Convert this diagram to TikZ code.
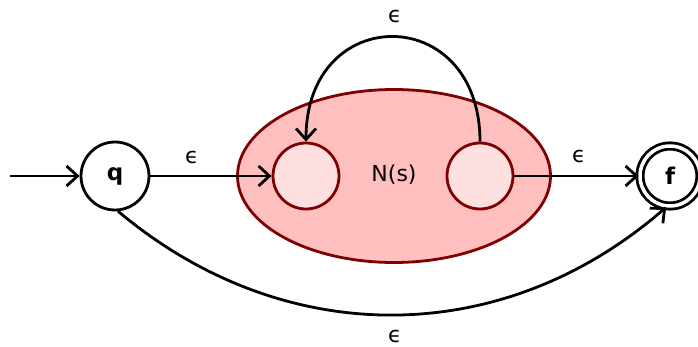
\documentclass[tikz,border=0pt]{standalone}
\usepackage{fontspec}
\setmainfont{DejaVu Sans}
\usetikzlibrary{arrows.meta,shapes.geometric}
\definecolor{darkred}{HTML}{7F0000}
\definecolor{ellfill}{HTML}{FFBFBF}
\definecolor{innerfill}{HTML}{FDDFDF}
\begin{document}
\begin{tikzpicture}[x=1pt,y=-1pt,
  state/.style={circle,draw=black,line width=2.8pt,minimum size=68pt,inner sep=0pt,font=\fontsize{23}{27}\selectfont\bfseries},
  inner/.style={circle,draw=darkred,fill=innerfill,line width=2.8pt,minimum size=66pt,inner sep=0pt},
  trans/.style={line width=2.8pt,-{Straight Barb[length=11pt,width=20pt,line width=2.8pt]}},
  lbl/.style={font=\fontsize{22}{26}\selectfont}]
\useasboundingbox (0,0) rectangle (698,347);
\node[ellipse,draw=darkred,fill=ellfill,line width=2.8pt,minimum width=313pt,minimum height=173pt,inner sep=0pt] (N) at (394,176) {};
\node[lbl] (Nlbl) at (394,175) {N(s)};
\node[state] (q) at (115,176) {q};
\node[state,double,double distance=3.5pt,minimum size=60pt] (f) at (670,176) {f};
\node[inner] (a) at (306,176) {};
\node[inner] (b) at (480,176) {};
\coordinate (start) at (10,176);
\draw[trans] (start) -- (q);
\draw[trans] (q) -- (a);
\draw[trans] (b) -- (f);
\draw[trans] (b.north) .. controls (480,2) and (306,2) .. (a.north);
\draw[trans] (q.275) .. controls (283,350) and (502,350) .. (f.263);
\node[lbl] at (192,157) {ϵ};
\node[lbl] at (395,16) {ϵ};
\node[lbl] at (579,156) {ϵ};
\node[lbl] at (395,336) {ϵ};
\end{tikzpicture}
\end{document}
